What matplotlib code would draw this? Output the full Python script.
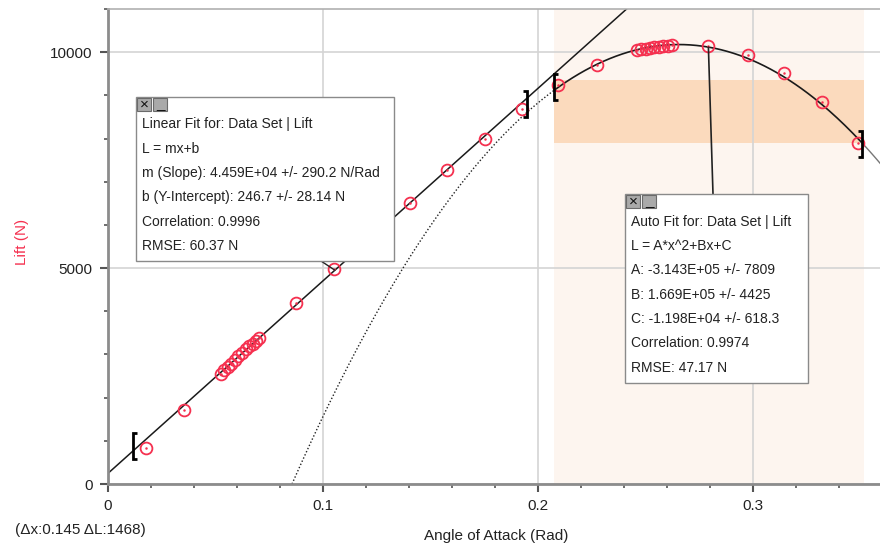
import numpy as np
import matplotlib.pyplot as plt
from matplotlib.patches import Rectangle

plt.rcParams['font.family'] = ['Liberation Sans', 'DejaVu Sans']

angle = [0.0175, 0.0355,
         0.0524, 0.0540, 0.0556, 0.0572, 0.0590, 0.0606, 0.0622, 0.0640,
         0.0656, 0.0672, 0.0688, 0.0704,
         0.0874, 0.1053, 0.1405, 0.1575, 0.1753, 0.1924, 0.2092, 0.2273,
         0.2459, 0.2480, 0.2500, 0.2520, 0.2540, 0.2560, 0.2580, 0.2602, 0.2625,
         0.2792, 0.2974, 0.3144, 0.3322, 0.3490]
lift = [833, 1706,
        2546, 2640, 2720, 2790, 2880, 2960, 3040, 3120,
        3190, 3250, 3320, 3372,
        4183, 4977, 6512, 7261, 7993, 8673, 9236, 9699,
        10046, 10065, 10085, 10100, 10115, 10128, 10140, 10152, 10162,
        10146, 9946, 9507, 8836, 7887]

# linear fit L = mx+b (values from the fit box)
lin_m = 4.459e4
lin_b = 246.7
lin_range = [0.0116, 0.195]
lin_bracket_lift = [870, 8790]

# auto fit L = A*x^2+Bx+C
quad_A = -3.143e5
quad_B = 1.669e5
quad_C = -1.198e4
quad_range = [0.2075, 0.3515]
quad_bracket_lift = [9190, 7870]
band_lift = [7886, 9352]

lin_text = ["Linear Fit for: Data Set | Lift",
            "L = mx+b",
            "m (Slope): 4.459E+04 +/- 290.2 N/Rad",
            "b (Y-Intercept): 246.7 +/- 28.14 N",
            "Correlation: 0.9996",
            "RMSE: 60.37 N"]
quad_text = ["Auto Fit for: Data Set | Lift",
             "L = A*x^2+Bx+C",
             "A: -3.143E+05 +/- 7809",
             "B: 1.669E+05 +/- 4425",
             "C: -1.198E+04 +/- 618.3",
             "Correlation: 0.9974",
             "RMSE: 47.17 N"]

red = '#f5304f'
W, H = 880, 546

fig = plt.figure(figsize=(8.8, 5.46), dpi=100)
ax = fig.add_axes([108 / W, 62 / H, 772 / W, 475 / H])

# shaded fit region
ax.axvspan(quad_range[0], quad_range[1], color='#fdf5ef', lw=0, zorder=0)
ax.fill_between(quad_range, band_lift[0], band_lift[1], color='#fbdabd', lw=0, zorder=0.2)

# fit curves
xs = np.linspace(0, 0.36, 300)
ax.plot(xs, lin_m * xs + lin_b, color='#1a1a1a', lw=1.1, zorder=2)

quad = lambda x: quad_A * x ** 2 + quad_B * x + quad_C
root = min(np.roots([quad_A, quad_B, quad_C]))
x_dot = np.linspace(root, quad_range[0], 200)
ax.plot(x_dot, quad(x_dot), color='#222222', lw=1, ls=(0, (1, 1.5)), zorder=2)
x_in = np.linspace(quad_range[0], 0.3505, 200)
ax.plot(x_in, quad(x_in), color='#1a1a1a', lw=1.2, zorder=2)
x_out = np.linspace(0.3505, 0.36, 20)
ax.plot(x_out, quad(x_out), color='#777777', lw=1, zorder=2)

# data points
ax.plot(angle, lift, 'o', mfc='none', mec=red, ms=8.5, mew=1.3, zorder=3)
ax.plot(angle, lift, 'o', color=red, ms=1.8, mew=0, zorder=3)


# range brackets
def bracket(x, y, d):
    h = 300
    ax.plot([x + d, x, x, x + d], [y - h, y - h, y + h, y + h], color='black',
            lw=2, solid_joinstyle='miter', solid_capstyle='butt', zorder=4)


bracket(lin_range[0], lin_bracket_lift[0], 0.0019)
bracket(lin_range[1], lin_bracket_lift[1], -0.0019)
bracket(quad_range[0], quad_bracket_lift[0], 0.0019)
bracket(0.3505, quad_bracket_lift[1], -0.0019)

# axes styling
ax.set_xlim(0, 0.359)
ax.set_ylim(0, 11000)
ax.set_xticks([0, 0.1, 0.2, 0.3])
ax.set_xticklabels(['0', '0.1', '0.2', '0.3'])
ax.set_xticks(np.arange(0, 0.36, 0.02), minor=True)
ax.set_yticks([0, 5000, 10000])
ax.set_yticks(np.arange(0, 11001, 1000), minor=True)
ax.set_axisbelow(True)
ax.grid(which='major', color='#d4d4d4', lw=1.2)
ax.tick_params(which='major', length=6, width=1.5, color='#555555', labelsize=11,
               labelcolor='#222222', pad=5)
ax.tick_params(which='minor', length=3, width=1.2, color='#555555')
for side in ['left', 'bottom']:
    ax.spines[side].set_color('#8c8c8c')
    ax.spines[side].set_linewidth(2)
ax.spines['top'].set_color('#b0b0b0')
ax.spines['top'].set_linewidth(1.2)
ax.spines['right'].set_visible(False)

fig.text(496 / W, 1 - 536 / H, "Angle of Attack (Rad)", fontsize=11, ha='center', va='center',
         color='#222222')
fig.text(22 / W, 1 - 242 / H, "Lift (N)", fontsize=11, rotation=90, ha='center', va='center',
         color=red)
fig.text(15 / W, 1 - 530 / H, "(\u0394x:0.145 \u0394L:1468)", fontsize=11, ha='left', va='center',
         color='#222222')


# fit info boxes (positions in figure pixels)
def fit_box(left, top, right, bottom, lines, first_y):
    fig.add_artist(Rectangle((left / W, 1 - bottom / H), (right - left) / W, (bottom - top) / H,
                             transform=fig.transFigure, fc='white', ec='#8a8a8a', lw=1, zorder=5))
    for i, icon in enumerate(['\u00d7', '_']):
        ix = left + 1 + i * 16
        fig.add_artist(Rectangle((ix / W, 1 - (top + 14) / H), 14 / W, 13 / H,
                                 transform=fig.transFigure, fc='#a9a9a9', ec='#6a6a6a', lw=0.8,
                                 zorder=6))
        fig.text((ix + 7) / W, 1 - (top + 7.5) / H, icon, fontsize=11,
                 ha='center', va='center', color='#111111', zorder=7)
    for i, line in enumerate(lines):
        fig.text((left + 6) / W, 1 - (first_y + i * 24.3) / H, line, fontsize=10, ha='left',
                 va='center', color='#222222', zorder=7)


ax.annotate('', xy=(0.1055, lin_m * 0.1055 + lin_b), xytext=(321, H - 261),
            textcoords='figure pixels', arrowprops=dict(arrowstyle='-', color='#222222', lw=1,
                                                        shrinkA=0, shrinkB=0))
ax.annotate('', xy=(0.2792, quad(0.2792)), xytext=(713, H - 194),
            textcoords='figure pixels', arrowprops=dict(arrowstyle='-', color='#222222', lw=1.2,
                                                        shrinkA=0, shrinkB=0))

fit_box(136, 97, 394, 261, lin_text, 124.3)
fit_box(625, 194, 808, 383, quad_text, 221.7)

plt.savefig("out.png", dpi=100)
